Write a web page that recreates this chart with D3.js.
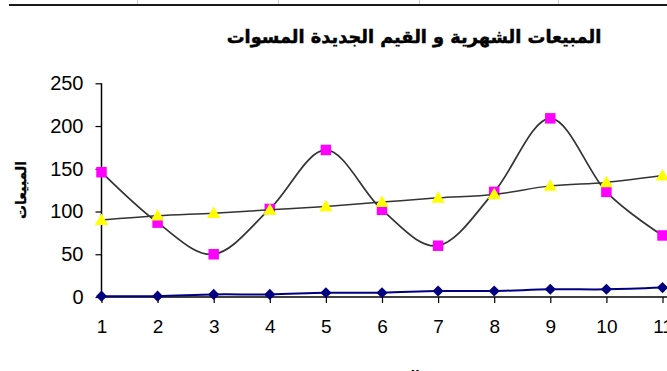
<!DOCTYPE html>
<html>
<head>
<meta charset="utf-8">
<script src="https://cdn.jsdelivr.net/npm/d3@7"></script>
<style>
  html, body { margin: 0; padding: 0; background: #fff; }
  svg { display: block; }
  .tick text { font-family: Arial, "Liberation Sans", sans-serif; }
</style>
</head>
<body>
<svg id="chart" width="667" height="371"></svg>
<script>
// Months on the category axis
const months = [1, 2, 3, 4, 5, 6, 7, 8, 9, 10, 11];
// Monthly sales (pink squares)
const salesValues = [146, 87, 50, 103, 172, 102, 60, 123, 209, 123, 72];
// Smoothed new values (yellow triangles)
const smoothedValues = [90, 95, 98, 102, 106, 111, 116, 120, 130, 134, 142];
// Period index series (blue diamonds)
const indexValues = [1, 1, 3, 3, 5, 5, 7, 7, 9, 9, 11];
// Value axis ticks
const yTicks = [0, 50, 100, 150, 200, 250];

const titleText = "المبيعات الشهرية و القيم الجديدة المسوات";
const yTitleText = "المبيعات";
const xTitleText = "الشهر";

const svg = d3.select("#chart");
const W = 667, H = 371;

const x = d3.scaleLinear().domain([1, 11]).range([101.5, 662.5]);
const y = d3.scaleLinear().domain([0, 250]).range([297, 83.3]);

// Sheet border line with column separators at the top
svg.append("g").selectAll("line").data([137, 278, 419, 558]).join("line")
  .attr("x1", d => d + 0.5).attr("x2", d => d + 0.5)
  .attr("y1", 0).attr("y2", 5)
  .attr("stroke", "#c8c8c8").attr("stroke-width", 1);
svg.append("line")
  .attr("x1", 9).attr("x2", W).attr("y1", 5).attr("y2", 5)
  .attr("stroke", "#1a1a1a").attr("stroke-width", 2);

// Title, sized to its measured width
const title = svg.append("text")
  .attr("x", 414).attr("y", 43)
  .attr("text-anchor", "middle")
  .attr("direction", "rtl")
  .attr("font-family", "'DejaVu Sans', Arial, sans-serif")
  .attr("font-weight", "bold")
  .attr("font-size", 17)
  .attr("fill", "#000")
  .attr("stroke", "#000").attr("stroke-width", 0.5)
  .text(titleText);
{
  const w = title.node().getComputedTextLength();
  if (w > 0) title.attr("font-size", 17 * 375 / w);
}

// Value axis
const yAxis = d3.axisLeft(y).tickValues(yTicks).tickSize(6).tickSizeOuter(0).tickPadding(12);
const gy = svg.append("g").attr("transform", "translate(101.5,0)").call(yAxis);
gy.select(".domain").remove();
gy.selectAll(".tick line").attr("stroke", "#000").attr("stroke-width", 1.2);
gy.selectAll(".tick text").attr("font-size", 20).attr("fill", "#000");
svg.append("line")
  .attr("x1", 101.5).attr("x2", 101.5).attr("y1", y(250)).attr("y2", y(0))
  .attr("stroke", "#000").attr("stroke-width", 1.5);

// Category axis
const xAxis = d3.axisBottom(x).tickValues(months).tickSize(6).tickSizeOuter(0).tickPadding(17)
  .tickFormat(d3.format("d"));
const gx = svg.append("g").attr("transform", `translate(0,${y(0)})`).call(xAxis);
gx.select(".domain").remove();
gx.selectAll(".tick line").attr("stroke", "#000").attr("stroke-width", 1.2);
gx.selectAll(".tick text").attr("font-size", 19).attr("fill", "#000");
svg.append("line")
  .attr("x1", 101.5).attr("x2", W).attr("y1", y(0)).attr("y2", y(0))
  .attr("stroke", "#000").attr("stroke-width", 1.5);

// Axis titles
const yTitle = svg.append("text")
  .attr("transform", "translate(26,190) rotate(-90)")
  .attr("text-anchor", "middle")
  .attr("direction", "rtl")
  .attr("font-family", "'DejaVu Sans', Arial, sans-serif")
  .attr("font-weight", "bold")
  .attr("font-size", 13)
  .attr("stroke", "#000").attr("stroke-width", 0.3)
  .text(yTitleText);
{
  const w = yTitle.node().getComputedTextLength();
  if (w > 0) yTitle.attr("font-size", 13 * 58 / w);
}
svg.append("text")
  .attr("x", 400).attr("y", 380)
  .attr("text-anchor", "middle")
  .attr("direction", "rtl")
  .attr("font-family", "'DejaVu Sans', Arial, sans-serif")
  .attr("font-weight", "bold")
  .attr("font-size", 13)
  .text(xTitleText);

// Smoothed line generator
const smooth = vals => d3.line()
  .x((d, i) => x(months[i]))
  .y(d => y(d))
  .curve(d3.curveCatmullRom.alpha(0))(vals);

// Blue index series
svg.append("path").attr("d", smooth(indexValues))
  .attr("fill", "none").attr("stroke", "#000080").attr("stroke-width", 2);
svg.append("g").selectAll("path").data(indexValues).join("path")
  .attr("d", d3.symbol(d3.symbolSquare, 62)())
  .attr("transform", (d, i) => `translate(${x(months[i])},${y(d)}) rotate(45)`)
  .attr("fill", "#000080");

// Pink sales series
svg.append("path").attr("d", smooth(salesValues))
  .attr("fill", "none").attr("stroke", "#333").attr("stroke-width", 1.7);
svg.append("g").selectAll("path").data(salesValues).join("path")
  .attr("d", d3.symbol(d3.symbolSquare, 110)())
  .attr("transform", (d, i) => `translate(${x(months[i])},${y(d)})`)
  .attr("fill", "#ff00ff");

// Yellow smoothed series
svg.append("path").attr("d", smooth(smoothedValues))
  .attr("fill", "none").attr("stroke", "#333").attr("stroke-width", 1.5);
svg.append("g").selectAll("path").data(smoothedValues).join("path")
  .attr("d", d3.symbol(d3.symbolTriangle, 76)())
  .attr("transform", (d, i) => `translate(${x(months[i])},${y(d) + 1})`)
  .attr("fill", "#ffff00");
</script>
</body>
</html>
